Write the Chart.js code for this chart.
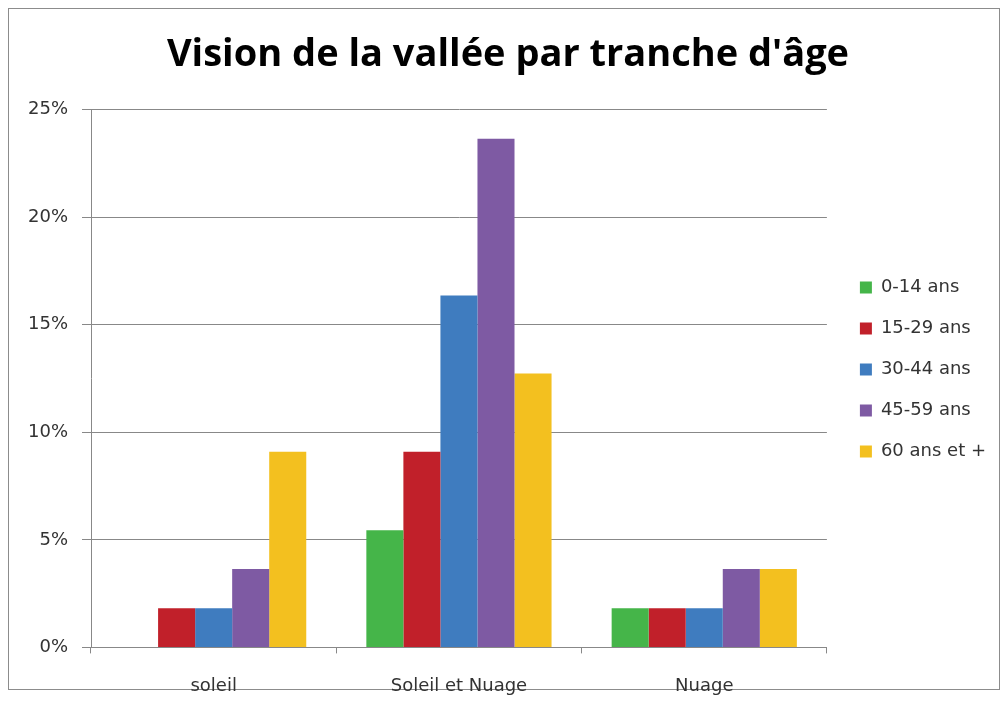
<!DOCTYPE html>
<html>
<head>
<meta charset="utf-8">
<script src="https://cdn.jsdelivr.net/npm/chart.js@4.4.0/dist/chart.umd.min.js"></script>
<style>
    html, body { margin: 0; padding: 0; background: #fff; }
    #frame {
        position: absolute; left: 8px; top: 8px;
        width: 990px; height: 680px;
        border: 1px solid #8c8c8c;
    }
    #myChart { position: absolute; left: 0; top: 0; }
</style>
</head>
<body>
<div id="frame"></div>
<canvas id="myChart" width="1008" height="716"></canvas>
<script>
// categories and age groups
const categories = ['soleil', 'Soleil et Nuage', 'Nuage'];
const ageGroups = ['0-14 ans', '15-29 ans', '30-44 ans', '45-59 ans', '60 ans et +'];
const colors = ['#45b549', '#c1202a', '#3f7cbf', '#7e5aa3', '#f3c01f'];

// values in %
const age0_14 = [0, 5.45, 1.82];
const age15_29 = [1.82, 9.09, 1.82];
const age30_44 = [1.82, 16.36, 1.82];
const age45_59 = [3.64, 23.64, 3.64];
const age60plus = [9.09, 12.73, 3.64];

const yTicks = [0, 5, 10, 15, 20, 25];

const series = [age0_14, age15_29, age30_44, age45_59, age60plus];

const labelFont = {family: 'DejaVu Sans', size: 18};

const ctx = document.getElementById('myChart');
new Chart(ctx, {
    type: 'bar',
    data: {
        labels: categories,
        datasets: series.map((vals, i) => ({
            label: ageGroups[i],
            data: vals,
            backgroundColor: colors[i],
            borderWidth: 0,
            categoryPercentage: 0.755,
            barPercentage: 1
        }))
    },
    options: {
        responsive: false,
        animation: false,
        devicePixelRatio: 1,
        layout: {padding: {top: 20, left: 20, right: 12, bottom: -3}},
        plugins: {
            title: {
                display: true,
                text: "Vision de la vallée par tranche d'âge",
                color: '#000',
                font: {family: 'Open Sans', size: 38, weight: 'bold'},
                padding: {top: 12, bottom: 32}
            },
            legend: {
                position: 'right',
                align: 'center',
                labels: {
                    boxWidth: 12,
                    boxHeight: 12,
                    padding: 23,
                    color: '#333',
                    font: labelFont
                }
            },
            tooltip: {enabled: false}
        },
        scales: {
            x: {
                offset: true,
                border: {color: '#888', width: 1},
                grid: {
                    offset: true,
                    drawOnChartArea: false,
                    drawTicks: true,
                    tickLength: 6,
                    color: '#888'
                },
                ticks: {
                    color: '#333',
                    padding: 22,
                    font: labelFont
                }
            },
            y: {
                min: 0,
                max: 25,
                afterFit: (scale) => { scale.width = 71; },
                afterBuildTicks: (scale) => {
                    scale.ticks = yTicks.map(v => ({value: v}));
                },
                border: {color: '#888', width: 1},
                grid: {
                    color: '#888',
                    tickLength: 9,
                    drawTicks: true
                },
                ticks: {
                    color: '#333',
                    padding: 14,
                    font: labelFont,
                    callback: (v) => v + '%'
                }
            },
            // empty axis, only keeps a gap between plot and legend
            gap: {
                axis: 'y',
                position: 'right',
                min: 0,
                max: 25,
                afterFit: (scale) => { scale.width = 10; },
                grid: {display: false, drawOnChartArea: false},
                border: {display: false},
                ticks: {display: false}
            }
        }
    }
});
</script>
</body>
</html>
